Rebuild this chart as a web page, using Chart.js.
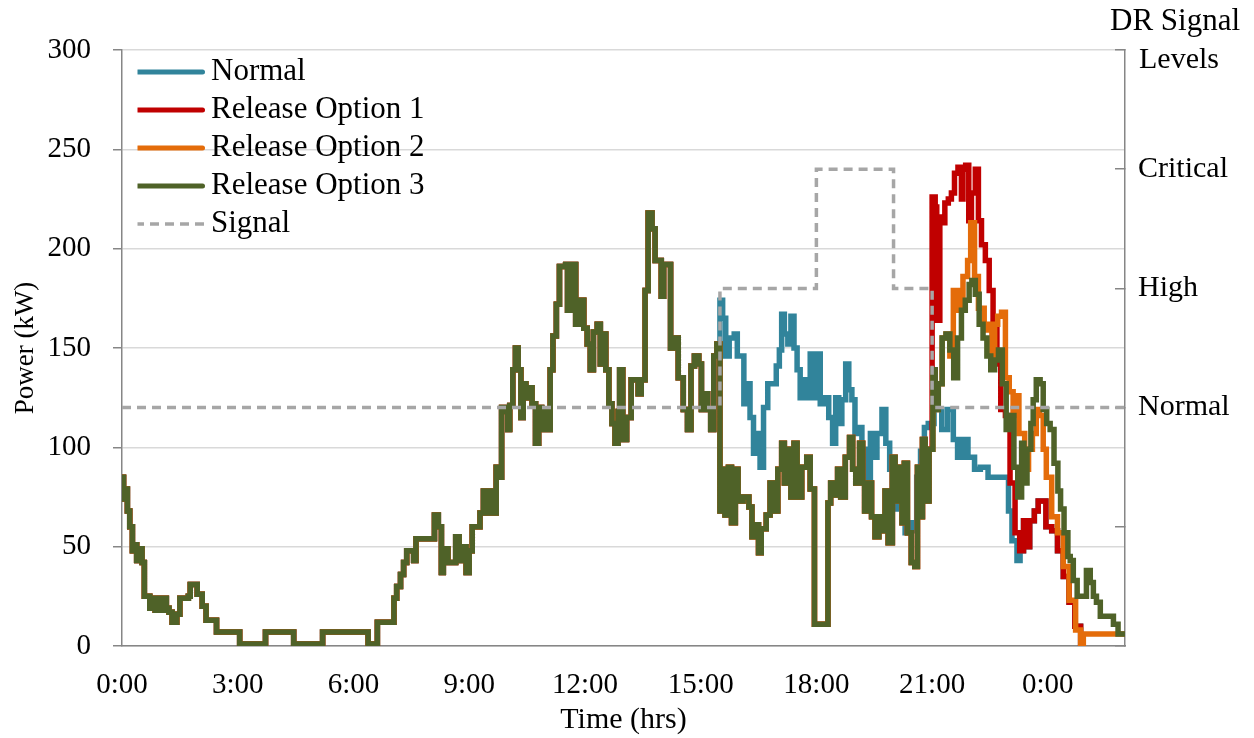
<!DOCTYPE html>
<html><head><meta charset="utf-8">
<script src="https://cdn.jsdelivr.net/npm/chart.js@4/dist/chart.umd.min.js"></script>
<style>html,body{margin:0;padding:0;background:#fff;}</style>
</head><body>
<canvas id="c" width="1254" height="738"></canvas>
<script>
// ---- data (time in hours, power in kW) ----
const baseTimes = [0,0.04,0.09,0.14,0.2,0.27,0.32,0.38,0.45,0.52,0.58,0.72,0.8,0.86,0.93,1.0,1.08,1.15,1.22,1.3,1.42,1.5,1.72,1.77,1.95,2.08,2.18,2.45,3.05,3.72,4.45,5.2,6.38,6.62,7.05,7.12,7.22,7.3,7.38,7.56,7.62,8.1,8.2,8.28,8.33,8.45,8.65,8.74,8.82,8.92,9.0,9.08,9.28,9.37,9.46,9.55,9.63,9.7,9.76,9.84,9.95,10.0,10.05,10.13,10.2,10.27,10.34,10.4,10.47,10.55,10.63,10.72,10.8,10.88,10.97,11.05,11.1,11.17,11.26,11.34,11.5,11.55,11.62,11.76,11.88,11.97,12.06,12.14,12.22,12.32,12.4,12.45,12.54,12.62,12.7,12.78,12.86,12.9,12.98,13.08,13.2,13.38,13.46,13.56,13.64,13.74,13.82,13.98,14.04,14.22,14.3,14.42,14.55,14.66,14.75,14.84,14.95,15.02,15.1,15.18,15.26,15.34,15.42];
const baseLoad  = [85,74,79,68,60,48,51,43,49,42,25,19,24,18,24,18,24,19,17,12,16,24,25,31,26,20,13,7,1,7,1,7,1,12,24,30,36,42,48,43,54,66,60,37,49,42,55,43,50,37,48,60,67,78,67,78,67,90,85,120,118,109,121,139,150,139,115,132,125,130,122,102,120,109,119,109,139,156,172,191,192,169,192,162,174,160,152,139,158,162,142,157,139,122,112,102,118,139,104,115,134,127,134,179,218,210,194,176,192,150,155,135,119,109,141,146,142,119,127,119,109,146,152];

const normalTimes = [15.5,15.57,15.65,15.74,15.87,15.95,16.12,16.2,16.28,16.37,16.46,16.54,16.63,16.74,16.96,17.04,17.1,17.17,17.26,17.34,17.42,17.5,17.58,17.67,17.76,17.84,17.92,18.01,18.1,18.2,18.32,18.42,18.5,18.58,18.66,18.76,18.84,18.92,19.0,19.1,19.18,19.26,19.4,19.5,19.57,19.7,19.8,19.9,19.97,20.1,20.2,20.3,20.4,20.5,20.6,20.7,20.8,20.9,21.05,21.25,21.4,21.55,21.66,21.8,21.93,22.1,22.25,22.45,22.98,23.07,23.2,23.28,23.37,23.46,23.53,23.65,23.75,23.95,24.1,24.25,24.4,24.55,24.7,24.85,24.95];
const normalLoad  = [174,165,146,155,157,146,122,132,115,97,107,90,120,132,141,149,167,157,152,166,150,139,125,134,125,147,125,147,122,125,115,102,125,112,124,142,129,124,107,110,99,82,107,95,107,119,102,89,69,80,75,57,62,58,85,98,110,112,119,109,119,104,95,104,95,89,90,85,68,53,43,48,63,50,63,68,73,60,58,48,35,22,10,0,0];

const opt3Times = [15.5,15.55,15.63,15.72,15.8,15.9,15.97,16.1,16.25,16.33,16.42,16.5,16.57,16.7,16.8,16.92,17.0,17.1,17.17,17.25,17.34,17.42,17.5,17.62,17.75,17.84,17.95,18.3,18.37,18.46,18.55,18.63,18.75,18.86,18.94,19.02,19.12,19.2,19.25,19.3,19.37,19.43,19.52,19.62,19.7,19.78,19.86,19.97,20.04,20.12,20.22,20.28,20.36,20.46,20.55,20.62,20.68,20.75,20.82,20.92,21.02,21.08,21.16,21.26,21.36,21.46,21.56,21.66,21.76,21.86,21.96,22.03,22.12,22.22,22.32,22.42,22.52,22.62,22.72,22.82,22.92,23.02,23.12,23.22,23.32,23.38,23.46,23.56,23.62,23.7,23.8,23.88,23.97,24.06,24.16,24.26,24.33,24.42,24.52,24.58,24.66,24.76,25.0,25.1,25.18,25.26,25.36,25.7,25.82,26];
const opt3Load  = [68,89,66,90,62,89,73,75,70,55,61,47,59,66,82,68,89,102,82,99,75,102,75,90,95,79,11,72,82,76,89,75,95,105,89,82,102,82,68,73,82,65,55,65,58,78,52,95,73,90,62,92,57,42,40,90,65,104,73,99,139,119,132,155,157,149,135,155,169,174,182,184,177,162,155,146,139,144,149,132,109,116,90,75,102,82,99,112,124,134,132,119,112,109,92,78,69,57,45,43,33,25,38,32,25,22,15,11,6,6];

// option 1 follows option 3 until the release at 21:00
const opt1Times = [21.0,21.08,21.12,21.2,21.28,21.33,21.42,21.5,21.58,21.67,21.76,21.8,21.87,21.95,22.02,22.12,22.2,22.28,22.38,22.48,22.58,22.68,22.78,22.9,23.02,23.15,23.27,23.37,23.46,23.53,23.65,23.75,23.95,24.1,24.25,24.4,24.55,24.7,24.85,24.95];
const opt1Load  = [226,221,164,216,213,223,225,228,238,241,225,240,242,214,228,240,214,202,194,179,164,142,119,116,82,57,48,63,50,63,68,73,60,58,48,35,22,10,0,0];

// option 2 follows option 3 until about 21:25
const opt2Times = [21.46,21.55,21.68,21.8,21.92,22.0,22.1,22.2,22.35,22.45,22.55,22.62,22.7,22.8,22.9,23.0,23.1,23.17,23.25,23.4,23.5,23.6,23.7,23.78,23.88,23.96,24.1,24.25,24.4,24.55,24.72,24.85,24.92,26];
const opt2Load  = [146,179,169,186,194,213,186,170,159,162,146,162,166,168,135,128,116,126,107,89,99,107,119,116,99,85,65,57,40,23,8,1,6,6];

const signalTimes  = [0,15.5,18,20,21,26];
const signalLevels = [120,180,240,180,120,120];

const hourTicks = [0,3,6,9,12,15,18,21,24];
const levelNames = {2:'Normal',3:'High',4:'Critical'};

// ---- helpers ----
const pts = (ts, vs) => ts.map((t,i) => ({x:t, y:vs[i]}));
const basePts = pts(baseTimes, baseLoad);
const opt3Pts = basePts.concat(pts(opt3Times,opt3Load));
const normalPts = basePts.concat(pts(normalTimes,normalLoad));
const opt1Pts = basePts.concat(pts(opt3Times,opt3Load).filter(p=>p.x<21.0), pts(opt1Times,opt1Load));
const opt2Pts = basePts.concat(pts(opt3Times,opt3Load).filter(p=>p.x<21.45), pts(opt2Times,opt2Load));

const FONT = 'Liberation Serif';
function legendImg(color, lw, dash) {
  const cv = document.createElement('canvas');
  cv.width = 70; cv.height = 8;
  const g = cv.getContext('2d');
  g.strokeStyle = color; g.lineWidth = lw; g.lineCap = dash ? 'butt' : 'round';
  if (dash) g.setLineDash(dash);
  g.beginPath(); g.moveTo(dash ? 0 : 2.5, 4); g.lineTo(dash ? 70 : 67.5, 4); g.stroke();
  return cv;
}
const line = (label, data, color, order, extra) => Object.assign({
  label, data, borderColor: color, backgroundColor: color, borderWidth: 5.5,
  pointRadius: 0, pointStyle: legendImg(color, 5, null), stepped: 'before', fill: false, order, borderJoinStyle: 'miter'
}, extra || {});

const extraText = {
  id: 'extraText',
  afterLayout(chart) {
    const lg = chart.legend;
    if (lg) {
      const w = lg.width, h = lg.height;
      lg.left = 137.5; lg.top = 49.5; lg.right = lg.left + w; lg.bottom = lg.top + h;
    }
  },
  afterDraw(chart) {
    const c = chart.ctx;
    c.save();
    c.fillStyle = '#000';
    c.textBaseline = 'middle';
    c.textAlign = 'left';
    c.font = '31px "' + FONT + '"';
    c.fillText('DR Signal', 1110, 22);
    c.font = '30px "' + FONT + '"';
    c.fillText('Levels', 1139, 60);
    c.restore();
  }
};

new Chart(document.getElementById('c'), {
  type: 'line',
  data: { datasets: [
    line('Normal', normalPts, '#31849B', 5),
    line('Release Option 1', opt1Pts, '#C00000', 4),
    line('Release Option 2', opt2Pts, '#E46C0A', 3),
    line('Release Option 3', opt3Pts, '#4F6228', 2),
    line('Signal', pts(signalTimes, signalLevels), '#A6A6A6', 1,
      {borderWidth: 3.5, borderDash: [9,6], pointStyle: legendImg('#A6A6A6', 3.5, [9,6])})
  ]},
  plugins: [extraText],
  options: {
    responsive: false, animation: false, devicePixelRatio: 1,
    layout: { padding: { top: 50, right: 0, left: 0, bottom: 0 } },
    plugins: {
      tooltip: { enabled: false },
      legend: {
        position: 'chartArea', align: 'start',
        labels: {
          usePointStyle: true, pointStyleWidth: 51,
          font: { family: FONT, size: 31 }, color: '#000', padding: 7,
          sort: (a, b) => a.datasetIndex - b.datasetIndex
        }
      }
    },
    scales: {
      x: {
        type: 'linear', min: 0, max: 26,
        afterBuildTicks: s => { s.ticks = hourTicks.map(v => ({value: v})); },
        afterFit: s => { s.height = 92; },
        ticks: { callback: v => (v % 24) + ':00', font: { family: FONT, size: 29 }, color: '#000', maxRotation: 0, padding: 14 },
        grid: { display: false },
        border: { display: true, color: '#868686', width: 1.5 },
        title: { display: true, text: 'Time (hrs)', font: { family: FONT, size: 30 }, color: '#000', padding: { top: 3, bottom: 0 } }
      },
      y: {
        position: 'left', min: 0, max: 300,
        afterFit: s => { s.width = 122; },
        ticks: { stepSize: 50, font: { family: FONT, size: 29 }, color: '#000', padding: 22 },
        grid: { color: '#D9D9D9', lineWidth: 1.5, tickColor: '#868686', tickLength: 9 },
        border: { color: '#868686', width: 1.5 },
        title: { display: true, text: 'Power (kW)', font: { family: FONT, size: 27 }, color: '#000', padding: { top: 10, bottom: 0 } }
      },
      y2: {
        position: 'right', min: 0, max: 5,
        afterFit: s => { s.width = 129; },
        ticks: { stepSize: 1, callback: v => levelNames[v] || '', font: { family: FONT, size: 30 }, color: '#000', padding: 23 },
        grid: { drawOnChartArea: false, tickColor: '#868686', tickLength: -10, lineWidth: 1.5 },
        border: { color: '#868686', width: 1.5 }
      }
    }
  }
});
</script>
</body></html>
